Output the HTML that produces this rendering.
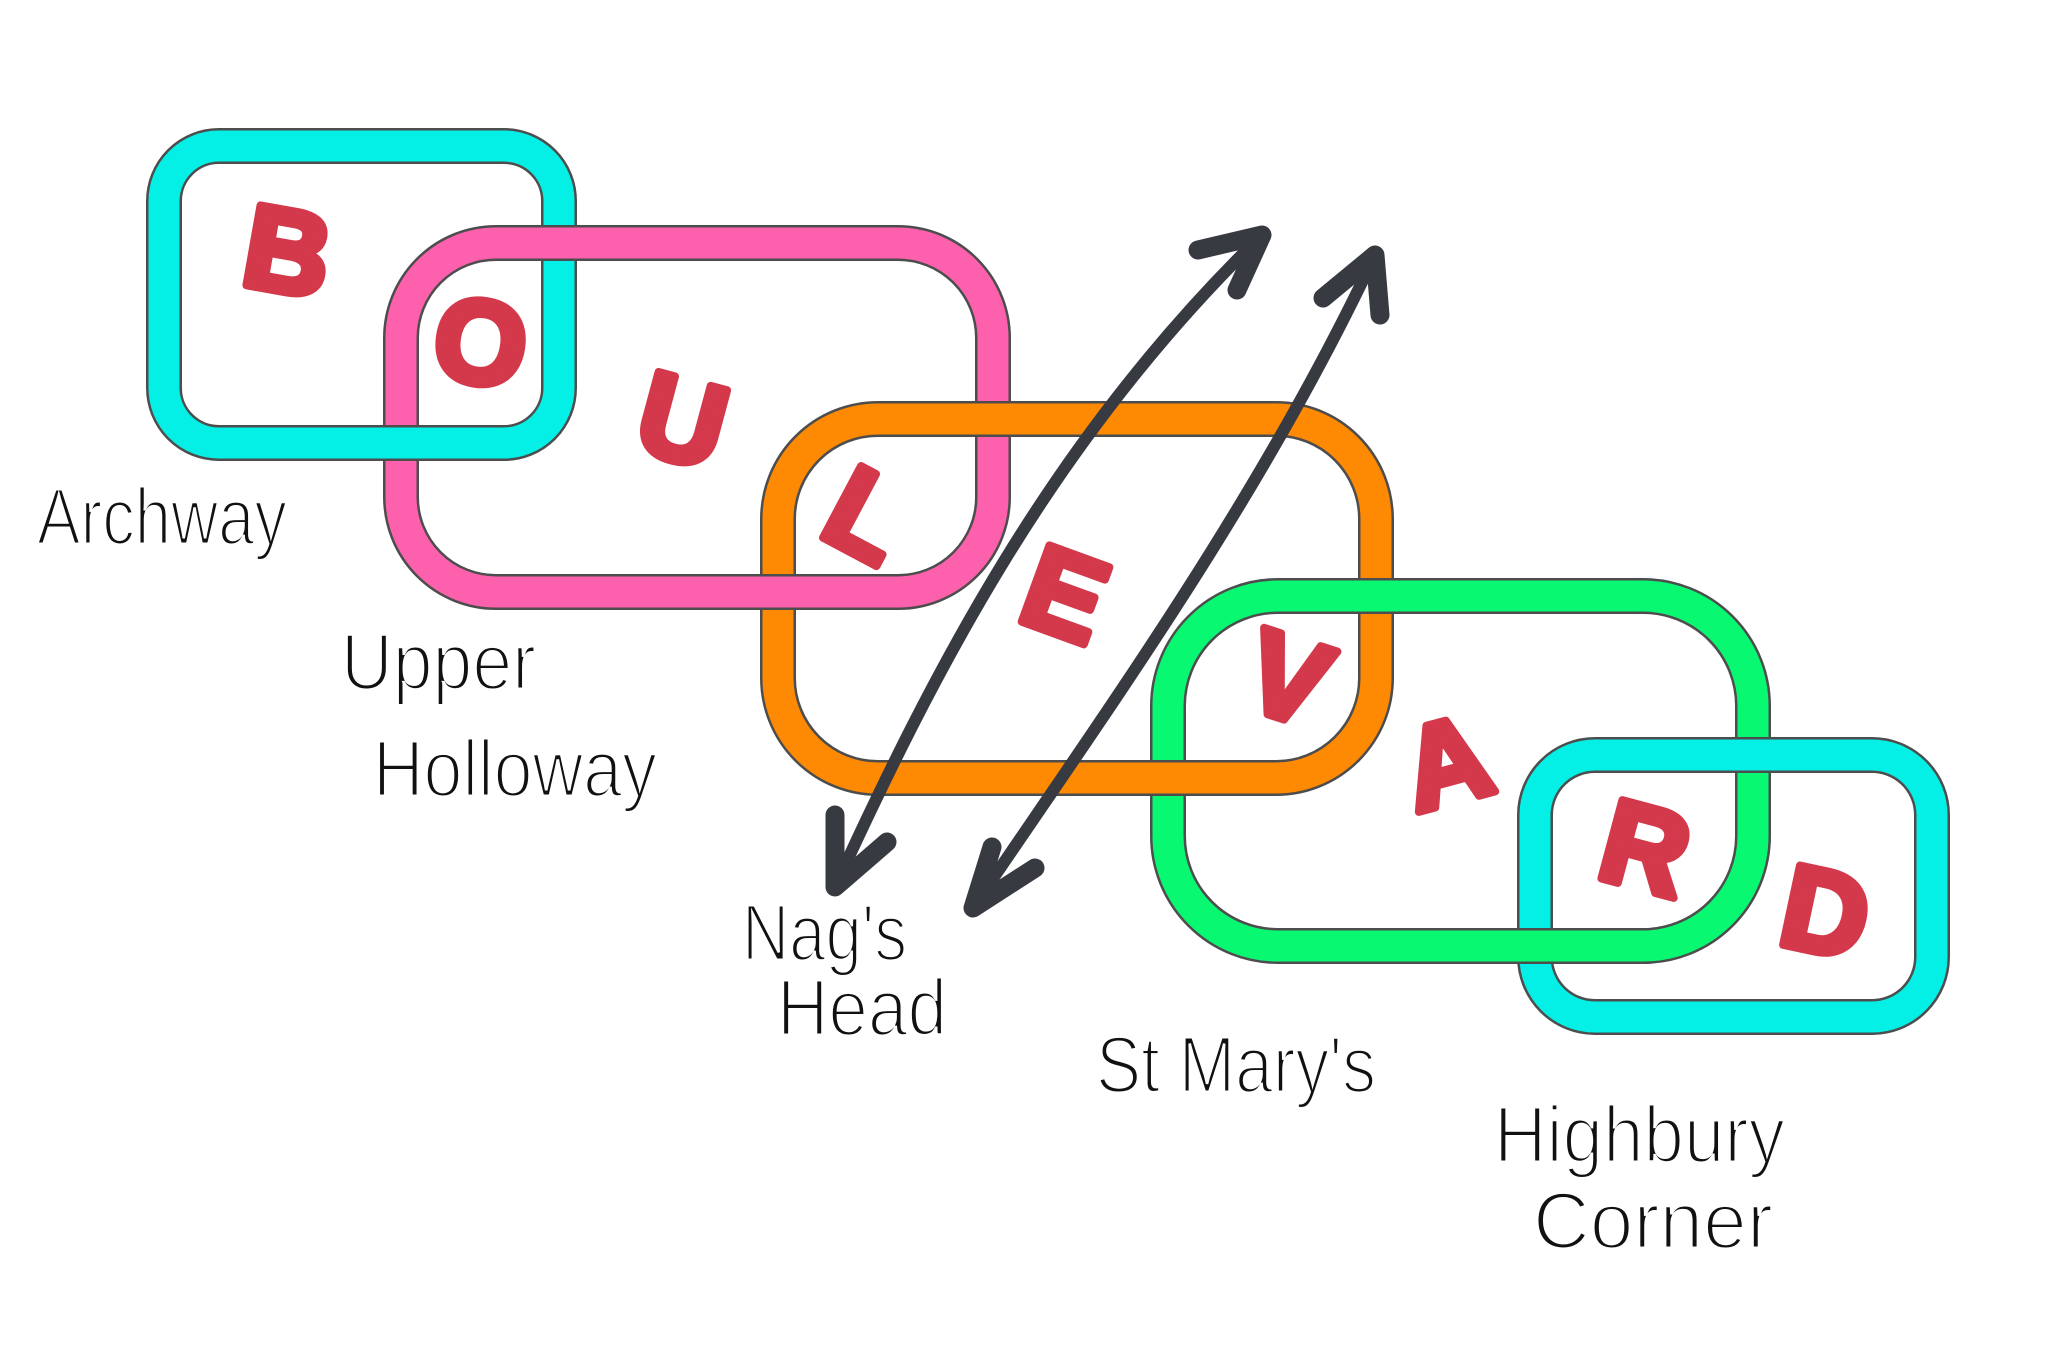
<!DOCTYPE html>
<html>
<head>
<meta charset="utf-8">
<style>
  html, body { margin: 0; padding: 0; background: #ffffff; }
  body { width: 2048px; height: 1365px; overflow: hidden; }
  svg { display: block; }
</style>
</head>
<body>
<svg width="2048" height="1365" viewBox="0 0 2048 1365" xmlns="http://www.w3.org/2000/svg">
  <defs>
    <clipPath id="c1"><rect x="378" y="418" width="48" height="52"/></clipPath>
    <clipPath id="c2"><rect x="755" y="566" width="46" height="54"/></clipPath>
    <clipPath id="c3"><rect x="1145" y="752" width="46" height="54"/></clipPath>
    <clipPath id="c4"><rect x="1512" y="920" width="46" height="54"/></clipPath>
  </defs>
  <rect x="0" y="0" width="2048" height="1365" fill="#ffffff"/>

  <g fill="none" stroke-linejoin="round">
    <!-- Cyan 1 -->
    <rect x="164" y="146" width="395" height="297" rx="55" ry="55" stroke="#4d4d4d" stroke-width="36"/>
    <rect x="164" y="146" width="395" height="297" rx="55" ry="55" stroke="#04f0e6" stroke-width="31"/>
    <!-- Pink -->
    <rect x="401" y="243" width="592" height="349" rx="95" ry="95" stroke="#4d4d4d" stroke-width="36"/>
    <rect x="401" y="243" width="592" height="349" rx="95" ry="95" stroke="#fd60ad" stroke-width="31"/>
    <!-- Orange -->
    <rect x="778" y="419" width="598" height="359" rx="100" ry="100" stroke="#4d4d4d" stroke-width="36"/>
    <rect x="778" y="419" width="598" height="359" rx="100" ry="100" stroke="#fe8902" stroke-width="31"/>
    <!-- Green -->
    <rect x="1168" y="596" width="585" height="350" rx="110" ry="110" stroke="#4d4d4d" stroke-width="36"/>
    <rect x="1168" y="596" width="585" height="350" rx="110" ry="110" stroke="#08f872" stroke-width="31"/>
    <!-- Cyan 2 -->
    <rect x="1535" y="755" width="397" height="262" rx="60" ry="60" stroke="#4d4d4d" stroke-width="36"/>
    <rect x="1535" y="755" width="397" height="262" rx="60" ry="60" stroke="#04f0e6" stroke-width="31"/>

    <!-- interlock overrides: left box's bottom over right box's left side -->
    <g clip-path="url(#c1)">
      <rect x="164" y="146" width="395" height="297" rx="55" ry="55" stroke="#4d4d4d" stroke-width="36"/>
      <rect x="164" y="146" width="395" height="297" rx="55" ry="55" stroke="#04f0e6" stroke-width="31"/>
    </g>
    <g clip-path="url(#c2)">
      <rect x="401" y="243" width="592" height="349" rx="95" ry="95" stroke="#4d4d4d" stroke-width="36"/>
      <rect x="401" y="243" width="592" height="349" rx="95" ry="95" stroke="#fd60ad" stroke-width="31"/>
    </g>
    <g clip-path="url(#c3)">
      <rect x="778" y="419" width="598" height="359" rx="100" ry="100" stroke="#4d4d4d" stroke-width="36"/>
      <rect x="778" y="419" width="598" height="359" rx="100" ry="100" stroke="#fe8902" stroke-width="31"/>
    </g>
    <g clip-path="url(#c4)">
      <rect x="1168" y="596" width="585" height="350" rx="110" ry="110" stroke="#4d4d4d" stroke-width="36"/>
      <rect x="1168" y="596" width="585" height="350" rx="110" ry="110" stroke="#08f872" stroke-width="31"/>
    </g>
  </g>

  <!-- Red letters -->
  <g font-family="'Liberation Sans', Arial, sans-serif" font-weight="bold" font-size="118" fill="#d3394a" stroke="#d3394a" stroke-width="8" stroke-linejoin="round" text-anchor="middle">
    <text x="288" y="292" transform="rotate(10 288 249)">B</text>
    <text x="481" y="383" transform="rotate(8 481 340)">O</text>
    <text x="683" y="461" transform="rotate(15 683 418)">U</text>
    <text x="868" y="556" transform="rotate(28 868 513)">L</text>
    <text x="1066" y="635" transform="rotate(20 1066 592)">E</text>
    <text x="1289" y="719" transform="rotate(18 1289 676)">V</text>
    <text x="1446" y="803" transform="rotate(-15 1446 760)">A</text>
    <text x="1646" y="889" transform="rotate(15 1646 846)">R</text>
    <text x="1826" y="953" transform="rotate(12 1826 910)">D</text>
  </g>

  <!-- Arrows -->
  <g fill="none" stroke="#383a42" stroke-linecap="round" stroke-linejoin="round">
    <path d="M835 887 C930 680 1050 440 1262 235" stroke-width="12"/>
    <path d="M973 908 C1100 720 1260 500 1375 255" stroke-width="12"/>
    <path d="M1198 250 L1262 235 L1237 290" stroke-width="19"/>
    <path d="M1323 298 L1375 255 L1380 315" stroke-width="19"/>
    <path d="M835 815 L835 887 L887 842" stroke-width="19"/>
    <path d="M992 847 L973 908 L1035 868" stroke-width="19"/>
  </g>

  <!-- Handwritten labels -->
  <g font-family="'Liberation Sans', 'DejaVu Sans', sans-serif" font-size="80" fill="#111111" stroke="#ffffff" stroke-width="3">
    <text x="37" y="544" textLength="250" lengthAdjust="spacingAndGlyphs">Archway</text>
    <text x="341" y="689" textLength="195" lengthAdjust="spacingAndGlyphs">Upper</text>
    <text x="373" y="796" textLength="284" lengthAdjust="spacingAndGlyphs">Holloway</text>
    <text x="742" y="960" textLength="165" lengthAdjust="spacingAndGlyphs">Nag's</text>
    <text x="777" y="1035" textLength="170" lengthAdjust="spacingAndGlyphs">Head</text>
    <text x="1096" y="1092" textLength="280" lengthAdjust="spacingAndGlyphs">St Mary's</text>
    <text x="1494" y="1162" textLength="291" lengthAdjust="spacingAndGlyphs">Highbury</text>
    <text x="1533" y="1248" textLength="240" lengthAdjust="spacingAndGlyphs">Corner</text>
  </g>
</svg>
</body>
</html>
